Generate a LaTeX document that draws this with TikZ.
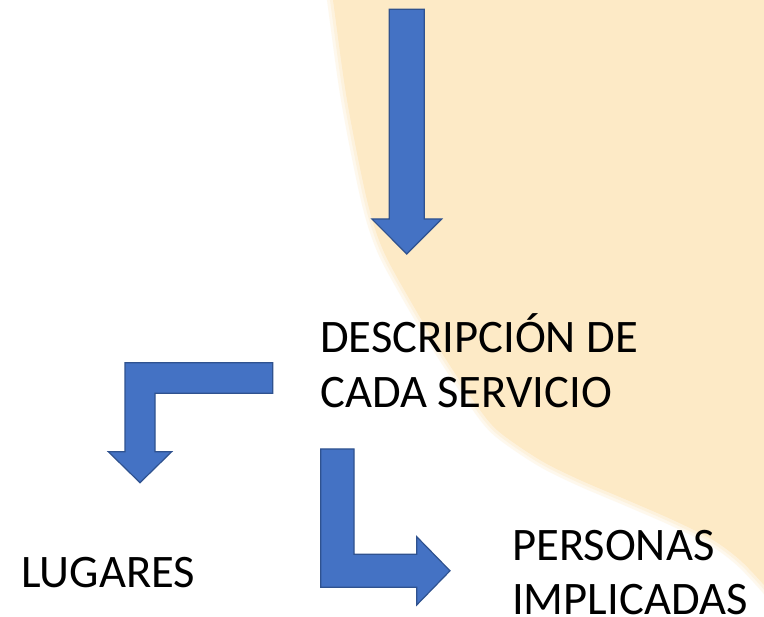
\documentclass[tikz,border=0pt]{standalone}
\usepackage{fontspec}
\setmainfont{Carlito}
\usepackage{tikz}
\usetikzlibrary{positioning}
\definecolor{arrowblue}{HTML}{4472C4}
\definecolor{arrowedge}{HTML}{2F528F}
\definecolor{sand}{HTML}{FDEAC6}
\tikzstyle{blockarrow}=[fill=arrowblue, draw=arrowedge, line width=1.2pt, line join=miter]
\tikzstyle{itemtext}=[inner sep=0pt, anchor=base west, align=left, font=\fontsize{46.6}{54.5}\selectfont]
\tikzstyle{sandedge}=[draw=sand, line join=round]

\begin{document}
\begin{tikzpicture}[x=1pt, y=-1pt]
	\useasboundingbox (0,0) rectangle (764,617);
	\fill[white] (0,0) rectangle (764,617);
	% sand shape with a soft edge
	\def\sandcurve{(330,-20) (333,0) (347,100) (367,200) (383,250) (410,300) (440,350) (473,400) (497,430) (540,460) (580,480) (627,500) (673,520) (713,540) (740,560) (764,585) (780,605)}
	\fill[sand] plot[smooth] coordinates {\sandcurve} -- (780,-20) -- cycle;
	\draw[sandedge, line width=12pt, opacity=.3] plot[smooth] coordinates {\sandcurve};
	\draw[sandedge, line width=6pt, opacity=.4] plot[smooth] coordinates {\sandcurve};
	% texts (base = last line)
	\node[itemtext] (desc) at (320,407.5) {DESCRIPCIÓN DE\\CADA SERVICIO};
	\node[itemtext] (lug) at (21,588) {LUGARES};
	\node[itemtext] (pers) at (512,614.5) {PERSONAS\\IMPLICADAS};
	% top arrow
	\draw[blockarrow] (389.3,9.3) -- (424.3,9.3) -- (424.3,219) -- (441.7,219) -- (406.8,254)
		-- (371.9,219) -- (389.3,219) -- cycle;
	% bent arrow to the left
	\draw[blockarrow] (272.7,362.7) -- (125,362.7) -- (125,451.7) -- (108.3,451.7) -- (140,482.7)
		-- (171.7,451.7) -- (155,451.7) -- (155,393.3) -- (272.7,393.3) -- cycle;
	% bent arrow to the right
	\draw[blockarrow] (320.7,449) -- (354,449) -- (354,554.3) -- (416.7,554.3) -- (416.7,536.7)
		-- (450,570.8) -- (416.7,605) -- (416.7,587.3) -- (320.7,587.3) -- cycle;
\end{tikzpicture}
\end{document}
